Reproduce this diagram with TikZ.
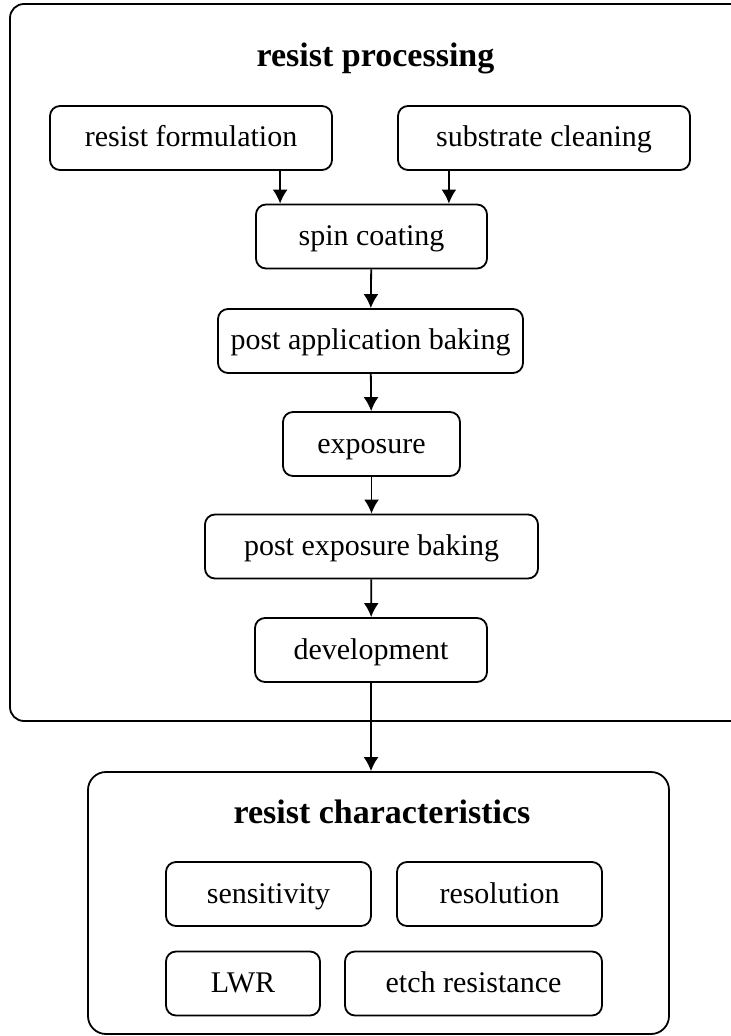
\documentclass[tikz,border=0pt]{standalone}
\usepackage{fontspec}
\setmainfont{Liberation Serif}
\usetikzlibrary{arrows.meta,calc}

\begin{document}
\begin{tikzpicture}[x=0.5pt,y=-0.5pt,
  every node/.style={font=\fontsize{15}{18}\selectfont},
  stepbox/.style={draw,line width=0.9pt,rounded corners=5pt,minimum height=32pt,inner sep=0pt,text height=11pt,text depth=2pt},
  frame/.style={draw,line width=0.9pt,inner sep=0pt},
  title/.style={font=\fontsize{17}{20}\selectfont\bfseries,anchor=base},
  arrow/.style={-{Latex[length=7pt,width=7.5pt]},line width=0.9pt}]
  \useasboundingbox (0,0) rectangle (731,1036);

  % Frames
  \node[frame,rounded corners=7pt,minimum width=367.5pt,minimum height=358.5pt] (proc) at (377.5,362.5) {};
  \node[frame,rounded corners=9pt,minimum width=290.5pt,minimum height=131pt] (chars) at (378.5,903) {};
  \node[title] (proctitle) at (375.5,67) {resist processing};
  \node[title] (charstitle) at (382,823) {resist characteristics};

  % Processing steps
  \node[stepbox,minimum width=141pt] (form) at (191,138) {resist formulation};
  \node[stepbox,minimum width=146pt] (clean) at (544,138) {substrate cleaning};
  \node[stepbox,minimum width=115.5pt] (spin) at (371.5,236.5) {spin coating};
  \node[stepbox,minimum width=152.5pt] (pab) at (370.5,341) {post application baking};
  \node[stepbox,minimum width=88.5pt] (expo) at (371.5,444) {exposure};
  \node[stepbox,minimum width=166.5pt] (peb) at (371.5,546.5) {post exposure baking};
  \node[stepbox,minimum width=116pt] (dev) at (371,650) {development};

  % Characteristics
  \node[stepbox,minimum width=102.5pt] (sens) at (268.5,894) {sensitivity};
  \node[stepbox,minimum width=102.5pt] (res) at (499.5,894) {resolution};
  \node[stepbox,minimum width=77pt] (lwr) at (243,983.5) {LWR};
  \node[stepbox,minimum width=128.5pt] (etch) at (473.5,983.5) {etch resistance};

  % Arrows
  \coordinate (inleft) at ($(spin.north west)+(25,0)$);
  \coordinate (inright) at ($(spin.north east)+(-39,0)$);
  \draw[arrow] (inleft |- form.south) -- (inleft);
  \draw[arrow] (inright |- clean.south) -- (inright);
  \draw[arrow] (spin) -- (pab);
  \draw[arrow] (pab) -- (expo);
  \draw[arrow] (expo) -- (peb);
  \draw[arrow] (peb) -- (dev);
  \draw[arrow] (dev.south) -- (dev.south |- chars.north);
\end{tikzpicture}
\end{document}
